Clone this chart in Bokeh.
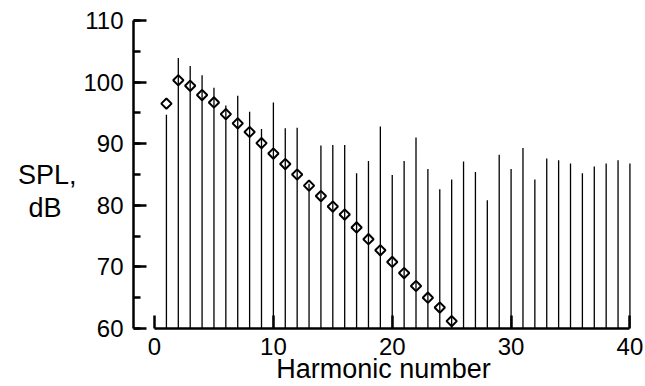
import numpy as np
from bokeh.plotting import figure
from bokeh.models import Range1d, FixedTicker, SingleIntervalTicker
from bokeh.embed import file_html
from bokeh.resources import INLINE

# Data
harmonics = list(range(1, 41))
stem_spl = [94.7, 103.9, 102.6, 101.1, 99.1, 96.2, 97.8, 95.2, 92.4, 96.7,
            92.5, 92.6, 83.5, 89.7, 89.8, 89.8, 85.2, 87.2, 92.8, 84.9,
            87.2, 91.0, 85.9, 82.6, 84.2, 87.1, 85.4, 80.8, 88.2, 85.9,
            89.3, 84.2, 87.6, 87.3, 86.8, 85.2, 86.3, 86.8, 87.3, 86.8]
diamond_harmonics = list(range(1, 26))
diamond_spl = [96.5, 100.3, 99.4, 97.9, 96.7, 94.8, 93.3, 91.9, 90.1, 88.4,
               86.7, 85.0, 83.2, 81.5, 79.8, 78.5, 76.4, 74.5, 72.7, 70.8,
               69.0, 66.9, 65.0, 63.4, 61.2]
x_ticks = [0, 10, 20, 30, 40]
y_base = 60

FONT = "Liberation Sans"

p = figure(width=645, height=386, output_backend="svg", toolbar_location=None,
           x_range=Range1d(-1.77, 40.3), y_range=Range1d(60, 110),
           min_border_left=133, min_border_right=12,
           min_border_top=20, min_border_bottom=58)
p.outline_line_color = None
p.xgrid.visible = False
p.ygrid.visible = False

# stems
p.segment(x0=harmonics, y0=[y_base] * len(harmonics), x1=harmonics, y1=stem_spl,
          line_color="black", line_width=1.3)
# diamonds
p.scatter(diamond_harmonics, diamond_spl, marker="square", angle=np.pi / 4,
          size=7.3, fill_alpha=0, line_color="black", line_width=2.0)

# x axis
xa = p.xaxis[0]
xa.ticker = FixedTicker(ticks=x_ticks, minor_ticks=[])
xa.bounds = (0, 40)
xa.axis_line_width = 2.5
xa.major_tick_line_width = 2.5
xa.major_tick_in = 13
xa.major_tick_out = 0
xa.minor_tick_in = 0
xa.minor_tick_out = 0
xa.major_label_standoff = 9
xa.major_label_text_font = FONT
xa.major_label_text_font_size = "24px"
xa.major_label_text_color = "black"
xa.axis_label = "Harmonic number"
xa.axis_label_text_font = FONT
xa.axis_label_text_font_size = "27px"
xa.axis_label_text_font_style = "normal"
xa.axis_label_text_color = "black"
xa.axis_label_standoff = -4

# y axis
ya = p.yaxis[0]
ya.ticker = SingleIntervalTicker(interval=10, num_minor_ticks=2)
ya.bounds = (60, 110)
ya.axis_line_width = 2.5
ya.major_tick_line_width = 2.5
ya.minor_tick_line_width = 2.5
ya.major_tick_in = 13
ya.major_tick_out = 0
ya.minor_tick_in = 7
ya.minor_tick_out = 0
ya.major_label_standoff = 10
ya.major_label_text_font = FONT
ya.major_label_text_font_size = "24px"
ya.major_label_text_color = "black"
ya.axis_label = "\nSPL,\ndB\u00a0\u00a0"
ya.axis_label_orientation = "horizontal"
ya.axis_label_text_font = FONT
ya.axis_label_text_font_size = "27px"
ya.axis_label_text_font_style = "normal"
ya.axis_label_text_color = "black"
ya.axis_label_text_line_height = 1.1
ya.axis_label_standoff = 4

open("out.html", "w").write(file_html(p, INLINE))
